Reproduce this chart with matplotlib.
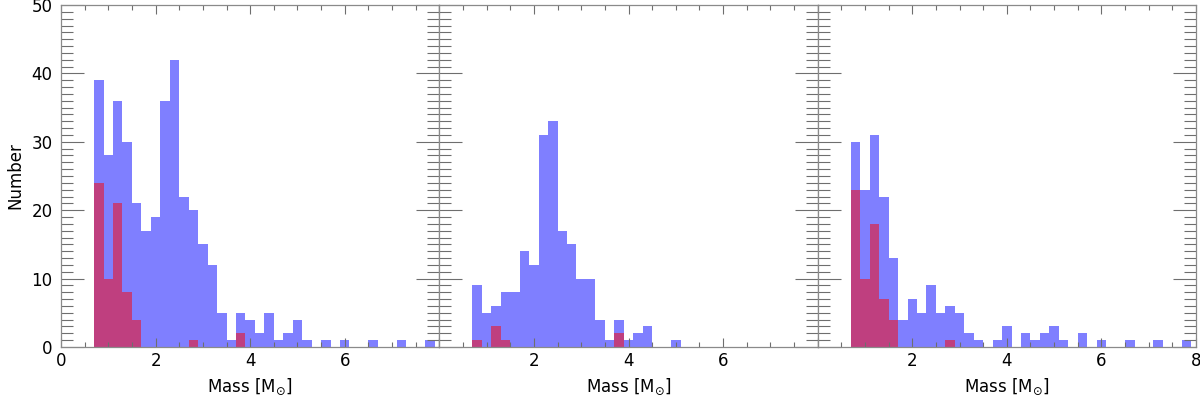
import numpy as np
import matplotlib
matplotlib.use('Agg')
import matplotlib.pyplot as plt
from matplotlib.ticker import MultipleLocator

# ---- data ----
bin_start = 0.7
bin_width = 0.2
n_bins = 36

all_p1 = [39, 28, 36, 30, 21, 17, 19, 36, 42, 22, 20, 15, 12, 5, 1, 5, 4, 2,
          5, 1, 2, 4, 1, 0, 1, 0, 1, 0, 0, 1, 0, 0, 1, 0, 0, 1]
sel_p1 = [24, 10, 21, 8, 4, 0, 0, 0, 0, 0, 1, 0, 0, 0, 0, 2, 0, 0,
          0, 0, 0, 0, 0, 0, 0, 0, 0, 0, 0, 0, 0, 0, 0, 0, 0, 0]

all_p2 = [9, 5, 6, 8, 8, 14, 12, 31, 33, 17, 15, 10, 10, 4, 1, 4, 1, 2,
          3, 0, 0, 1, 0, 0, 0, 0, 0, 0, 0, 0, 0, 0, 0, 0, 0, 0]
sel_p2 = [1, 0, 3, 1, 0, 0, 0, 0, 0, 0, 0, 0, 0, 0, 0, 2, 0, 0,
          0, 0, 0, 0, 0, 0, 0, 0, 0, 0, 0, 0, 0, 0, 0, 0, 0, 0]

all_p3 = [30, 23, 31, 22, 13, 4, 7, 5, 9, 5, 6, 5, 2, 1, 0, 1, 3, 0,
          2, 1, 2, 3, 1, 0, 2, 0, 1, 0, 0, 1, 0, 0, 1, 0, 0, 1]
sel_p3 = [23, 10, 18, 7, 4, 0, 0, 0, 0, 0, 1, 0, 0, 0, 0, 0, 0, 0,
          0, 0, 0, 0, 0, 0, 0, 0, 0, 0, 0, 0, 0, 0, 0, 0, 0, 0]

xtick_values = [0, 2, 4, 6, 8]
xtick_labels_p1 = ['0', '2', '4', '6', '']
xtick_labels_p2 = ['', '2', '4', '6', '']
xtick_labels_p3 = ['', '2', '4', '6', '8']

xlabel = 'Mass [M$_{\\odot}$]'
ylabel = 'Number'

# ---- plot ----
plt.rcParams['font.family'] = ['DejaVu Sans']
plt.rcParams['font.size'] = 12

edges = bin_start + bin_width * np.arange(n_bins + 1)
centers = 0.5 * (edges[:-1] + edges[1:])

fig, axes = plt.subplots(1, 3, figsize=(12, 3.96), dpi=100, sharey=True)
fig.subplots_adjust(left=61 / 1200, right=1196 / 1200,
                    top=1 - 5 / 396, bottom=1 - 347 / 396, wspace=0)

tick_col = '#6e6e6e'
panels = [(all_p1, sel_p1, xtick_labels_p1),
          (all_p2, sel_p2, xtick_labels_p2),
          (all_p3, sel_p3, xtick_labels_p3)]

for i, (ax, (a, s, lbls)) in enumerate(zip(axes, panels)):
    ax.hist(centers, bins=edges, weights=a, color='blue', alpha=0.5)
    ax.hist(centers, bins=edges, weights=s, color='red', alpha=0.5)
    ax.set_xlim(0, 8)
    ax.set_ylim(0, 50)
    ax.set_xticks(xtick_values)
    ax.set_xticklabels(lbls)
    ax.xaxis.set_minor_locator(MultipleLocator(0.5))
    ax.yaxis.set_major_locator(MultipleLocator(10))
    ax.yaxis.set_minor_locator(MultipleLocator(1))
    ax.tick_params(axis='both', which='both', direction='in',
                   top=True, right=True, color=tick_col, width=0.8)
    ax.tick_params(axis='y', which='major', length=16.5, pad=6, labelsize=12)
    ax.tick_params(axis='y', which='minor', length=8.6)
    ax.tick_params(axis='x', which='major', length=6.5, pad=3.5, labelsize=12)
    ax.tick_params(axis='x', which='minor', length=3.6)
    for sp in ax.spines.values():
        sp.set_color('#8a8a8a')
        sp.set_linewidth(0.9)
    ax.set_xlabel(xlabel, fontsize=12, labelpad=5)
    if i > 0:
        ax.tick_params(axis='y', labelleft=False)

axes[0].set_ylabel(ylabel, fontsize=12, labelpad=5)

fig.savefig('out.png', dpi=100)
